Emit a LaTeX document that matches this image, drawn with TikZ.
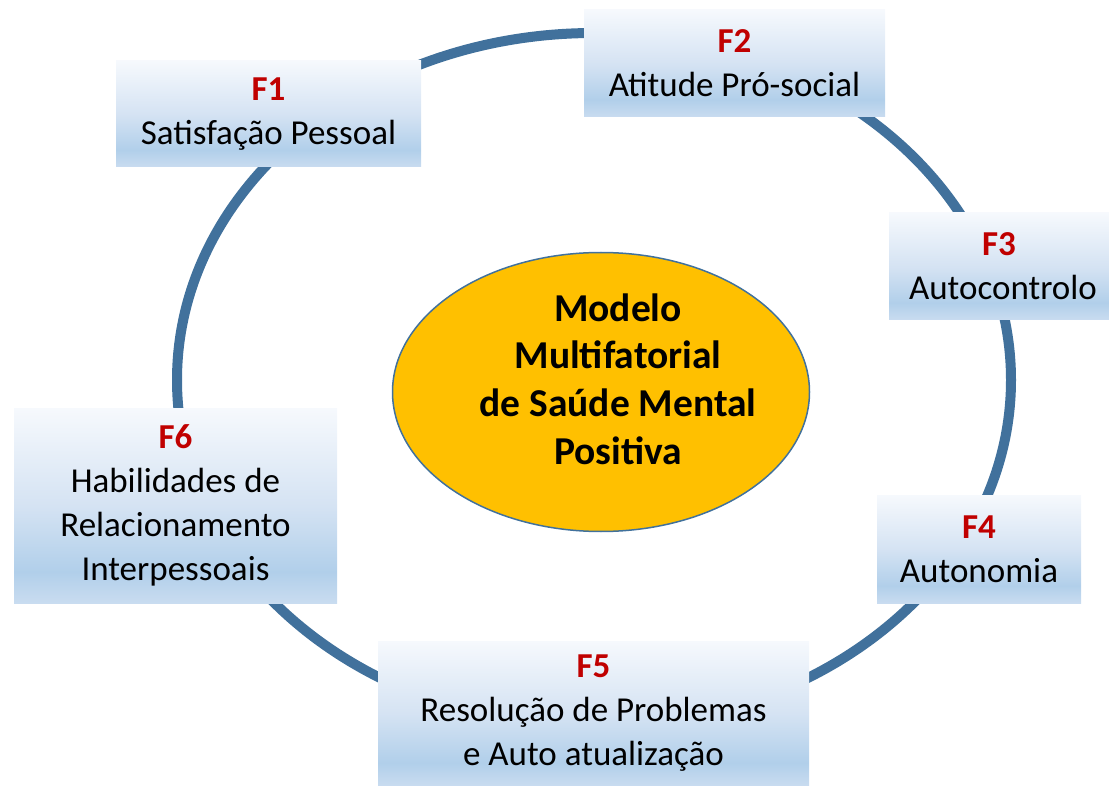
\documentclass[tikz,border=0pt]{standalone}
\usepackage{fontspec}
\setmainfont{Carlito}
\usetikzlibrary{shapes.geometric}

\definecolor{ringblue}{HTML}{41719C}
\definecolor{facred}{HTML}{C00000}
\definecolor{centergold}{HTML}{FFC000}
\definecolor{boxtop}{HTML}{F6F9FD}
\definecolor{boxmid}{HTML}{D5E3F3}
\definecolor{boxlow}{HTML}{B1CFEA}
\definecolor{boxbot}{HTML}{C9DCF0}
\pgfdeclareverticalshading{boxfade}{100bp}{color(0bp)=(boxbot); color(25bp)=(boxbot); color(33bp)=(boxlow); color(50bp)=(boxmid); color(75bp)=(boxtop); color(100bp)=(boxtop)}

\newcommand{\fatorlabel}[1]{\textcolor{facred}{\textbf{#1}}}

\tikzset{
	factor/.style={shading=boxfade, align=center, inner sep=0pt,
		font=\fontsize{35}{44}\selectfont},
	centre/.style={ellipse, draw=ringblue, line width=1.5pt, fill=centergold,
		inner sep=0pt},
}

\begin{document}
\begin{tikzpicture}[x=1pt,y=-1pt]
	\useasboundingbox (0,0) rectangle (1109,786);
	
	%ring
	\draw[ringblue, line width=10pt] (594,380) ellipse [x radius=417, y radius=347];
	
	%centre
	\node[centre, minimum width=417pt, minimum height=279pt] (centro) at (601,392) {};
	\node[align=center, inner sep=0pt, font=\fontsize{39.5}{47.7}\selectfont\bfseries] (modelo) at (618,379)
		{Modelo\\Multifatorial\\de Saúde Mental\\Positiva};
	
	%factors
	\node[factor, minimum width=305pt, minimum height=106pt] (f1) at (268.5,114)
		{\fatorlabel{F1}\\Satisfação Pessoal};
	\node[factor, minimum width=301pt, minimum height=107pt] (f2) at (734.5,63.5)
		{\fatorlabel{F2}\\Atitude Pró-social};
	\node[factor, minimum width=220pt, minimum height=107pt] (f3) at (999,266.5)
		{\fatorlabel{F3}\\\hspace*{8pt}Autocontrolo};
	\node[factor, minimum width=204pt, minimum height=108pt] (f4) at (979,549)
		{\fatorlabel{F4}\\Autonomia};
	\node[factor, minimum width=431pt, minimum height=145pt] (f5) at (593.5,713.5)
		{\fatorlabel{F5}\\Resolução de Problemas\\e Auto atualização};
	\node[factor, minimum width=323pt, minimum height=195pt] (f6) at (175.5,505.5)
		{\fatorlabel{F6}\\Habilidades de\\Relacionamento\\Interpessoais};
\end{tikzpicture}
\end{document}
